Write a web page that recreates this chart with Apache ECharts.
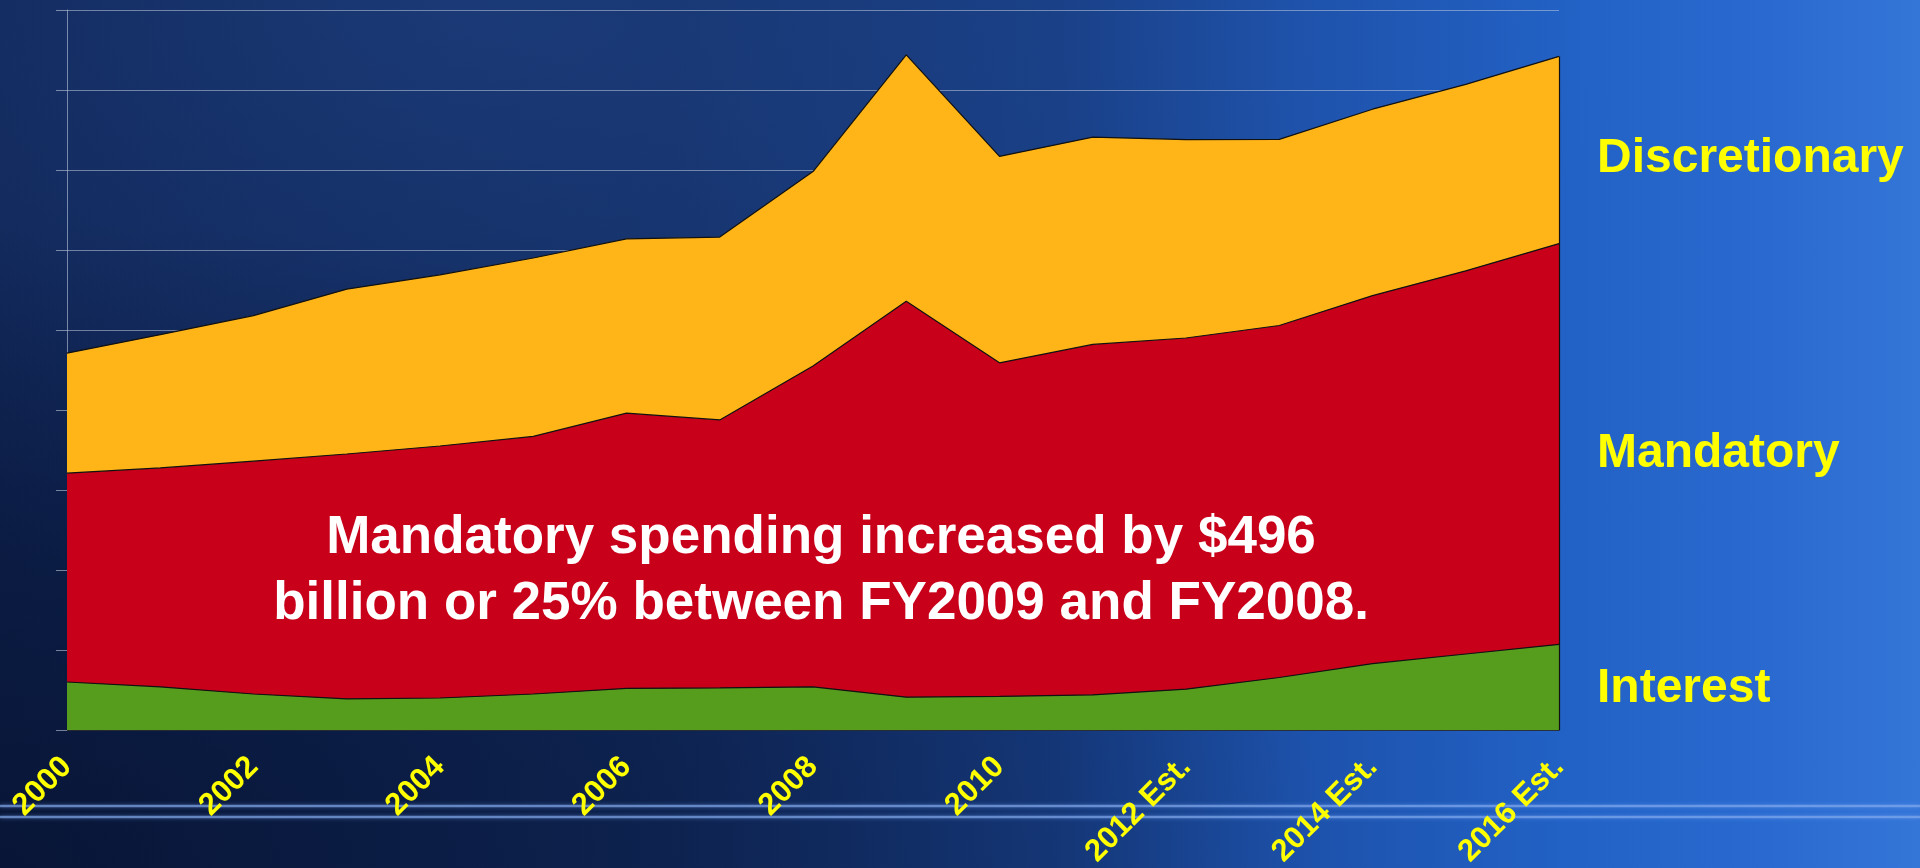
<!DOCTYPE html>
<html>
<head>
<meta charset="utf-8">
<title>Spending by type</title>
<script src="https://cdn.jsdelivr.net/npm/echarts@6/dist/echarts.min.js"></script>
<style>
html, body { margin: 0; padding: 0; }
#chart {
  width: 1920px;
  height: 868px;
  background:
    radial-gradient(ellipse 70% 75% at 0% 100%, rgba(2, 8, 28, 0.5) 0%, rgba(2, 8, 28, 0) 100%),
    radial-gradient(ellipse 60% 70% at 25% 0%, rgba(45, 90, 170, 0.35) 0%, rgba(45, 90, 170, 0) 100%),
    linear-gradient(90deg, #0e2250 0%, #112b60 35%, #163b80 55%, #1d52ac 68%, #2262c6 82%, #2a6ad0 92%, #3475d8 100%);
}
</style>
</head>
<body>
<div id="chart"></div>
<script>
// billions of dollars
const years = ['2000', '2001', '2002', '2003', '2004', '2005', '2006', '2007', '2008', '2009',
  '2010', '2011', '2012 Est.', '2013 Est.', '2014 Est.', '2015 Est.', '2016 Est.'];
const interest = [300, 270, 225, 195, 200, 225, 260, 263, 270, 205, 210, 220, 255, 328, 415, 475, 535];
const mandatory = [1305, 1368, 1455, 1530, 1575, 1610, 1720, 1675, 2005, 2475, 2085, 2190, 2195, 2200, 2300, 2395, 2505];
const discretionary = [750, 833, 910, 1030, 1070, 1115, 1090, 1143, 1215, 1540, 1290, 1295, 1240, 1163, 1165, 1165, 1170];
const seriesNames = ['Interest', 'Mandatory', 'Discretionary'];
const note = ['Mandatory spending increased by $496', 'billion or 25% between FY2009 and FY2008.'];

const font = "'Liberation Sans', Arial, sans-serif";
const last = years.length - 1;
const lastTotal = interest[last] + mandatory[last] + discretionary[last];

const chart = echarts.init(document.getElementById('chart'));

function area(name, data, color) {
  return {
    name: name,
    type: 'line',
    stack: 'total',
    data: data,
    symbol: 'none',
    lineStyle: { color: '#111', width: 1.2 },
    areaStyle: { color: color, opacity: 1 },
    emphasis: { disabled: true }
  };
}

const discSeries = area(seriesNames[2], discretionary, '#ffb518');
// closing edge on the right like the original
discSeries.markLine = {
  silent: true,
  symbol: 'none',
  label: { show: false },
  lineStyle: { color: '#111', width: 1.2, type: 'solid' },
  data: [[{ coord: [years[last], 0] }, { coord: [years[last], lastTotal] }]]
};

chart.setOption({
  backgroundColor: 'transparent',
  animation: false,
  grid: { left: 67, right: 361, top: 10, bottom: 138, containLabel: false, outerBoundsMode: 'none' },
  xAxis: {
    type: 'category',
    data: years,
    boundaryGap: false,
    axisLine: { lineStyle: { color: '#111', width: 1.5 } },
    axisTick: { show: false },
    axisLabel: {
      interval: 1,
      rotate: 45,
      margin: 32,
      color: '#ffff00',
      fontWeight: 'bold',
      fontSize: 31,
      fontFamily: font
    }
  },
  yAxis: {
    type: 'value',
    min: 0,
    max: 4500,
    interval: 500,
    axisLine: { show: true, lineStyle: { color: 'rgba(190,200,220,0.6)' } },
    axisTick: { show: true, length: 11, lineStyle: { color: 'rgba(190,200,220,0.6)' } },
    axisLabel: { show: false },
    splitLine: { lineStyle: { color: 'rgba(190,200,220,0.55)', width: 1 } }
  },
  series: [
    area(seriesNames[0], interest, '#569c1d'),
    area(seriesNames[1], mandatory, '#c8001a'),
    discSeries
  ],
  graphic: [
    {
      type: 'text', left: 1597, top: 135, z: 100,
      style: { text: seriesNames[2], fill: '#ffff00', font: 'bold 48px ' + font }
    },
    {
      type: 'text', left: 1597, top: 430, z: 100,
      style: { text: seriesNames[1], fill: '#ffff00', font: 'bold 48px ' + font }
    },
    {
      type: 'text', left: 1597, top: 665, z: 100,
      style: { text: seriesNames[0], fill: '#ffff00', font: 'bold 48px ' + font }
    },
    {
      type: 'text', x: 821, y: 571, z: 100,
      style: {
        text: note.join('\n'),
        fill: '#ffffff',
        font: 'bold 53px ' + font,
        align: 'center',
        verticalAlign: 'middle',
        lineHeight: 66
      }
    },
    {
      type: 'line', z: -1,
      shape: { x1: 0, y1: 806, x2: 1920, y2: 806 },
      style: { stroke: 'rgba(130,170,235,0.7)', lineWidth: 2.5, shadowBlur: 4, shadowColor: 'rgba(120,170,255,0.6)' }
    },
    {
      type: 'line', z: -1,
      shape: { x1: 0, y1: 817, x2: 1920, y2: 817 },
      style: { stroke: 'rgba(130,170,235,0.7)', lineWidth: 2.5, shadowBlur: 4, shadowColor: 'rgba(120,170,255,0.6)' }
    }
  ]
});
</script>
</body>
</html>
